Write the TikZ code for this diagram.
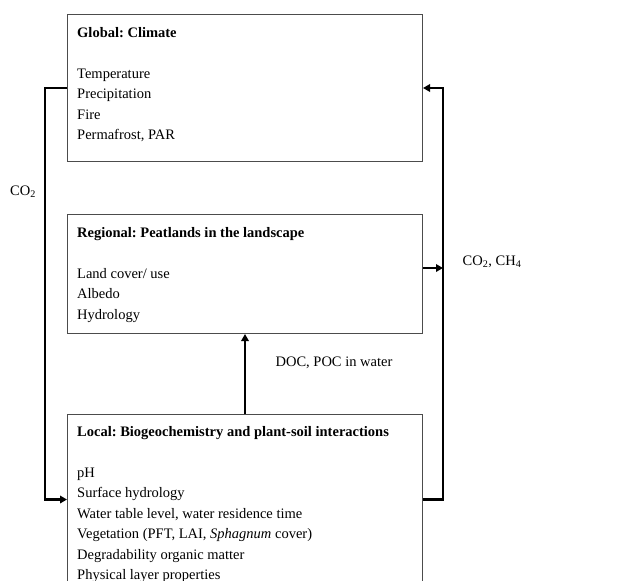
\documentclass[tikz,border=0pt]{standalone}
\usepackage{fontspec}
\setmainfont{Liberation Serif}
\frenchspacing
\usetikzlibrary{arrows.meta}
\tikzset{
  box/.style={draw=black!70, line width=1pt, inner sep=0pt, anchor=north west,
    minimum width=355pt},
  txt/.style={inner sep=0pt, anchor=north west, align=left,
    font=\fontsize{14.5}{20.5}\selectfont},
  lbl/.style={inner sep=0pt, font=\fontsize{14.5}{20.5}\selectfont},
  flow/.style={line width=2.4pt, -{Triangle[length=7pt,width=7.5pt]}}
}
\begin{document}
\begin{tikzpicture}[x=1pt,y=-1pt]
    \clip (0,0) rectangle (630,581);
    % Boxes
    \node[box, minimum height=147pt] (global) at (67,14) {};
    \node[box, minimum height=119pt] (regional) at (67,214) {};
    \node[box, minimum height=170pt] (local) at (67,414) {}; % bottom runs off the page

    % Box texts
    \node[txt] (globaltxt) at (77,27) {\textbf{Global: Climate}\\[20.5pt]
        Temperature\\ Precipitation\\ Fire\\ Permafrost, PAR};
    \node[txt] (regionaltxt) at (77,227) {\textbf{Regional: Peatlands in the landscape}\\[20.5pt]
        Land cover/ use\\ Albedo\\ Hydrology};
    \node[txt] (localtxt) at (77,426) {\textbf{Local: Biogeochemistry and plant-soil interactions}\\[20.5pt]
        pH\\ Surface hydrology\\ Water table level, water residence time\\
        Vegetation (PFT, LAI, \textit{Sphagnum} cover)\\ Degradability organic matter\\
        Physical layer properties};

    % Connectors
    \coordinate (lx) at (45,300);
    \coordinate (rx) at (443,300);
    \draw[flow] (global.west) -- (global.west -| lx) |- (local.west);
    \draw[flow] (local.east) -- (local.east -| rx) |- (global.east);
    \draw[flow] ([yshift=6pt]regional.east) -- ([yshift=6pt]regional.east -| rx);
    \draw[flow] (local.north) -- (regional.south);

    % Labels
    \node[lbl] (co2) at (23,192) {CO\textsubscript{2}};
    \node[lbl] (co2ch4) at (492,262) {CO\textsubscript{2}, CH\textsubscript{4}};
    \node[lbl] (docpoc) at (334,363) {DOC, POC in water};
\end{tikzpicture}
\end{document}
